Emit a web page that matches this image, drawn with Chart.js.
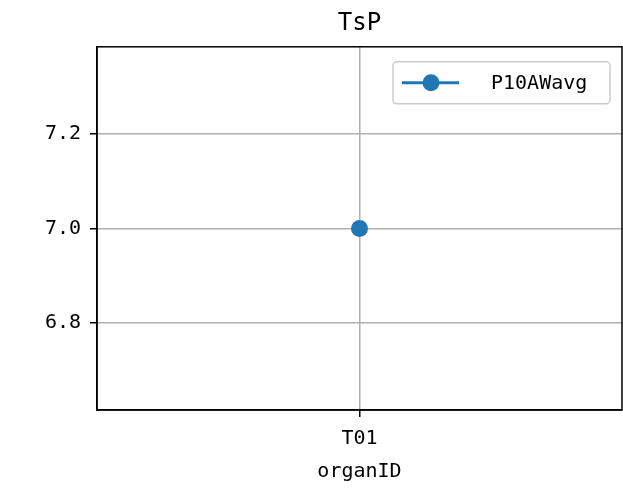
<!DOCTYPE html>
<html>
<head>
<meta charset="utf-8">
<script src="https://cdn.jsdelivr.net/npm/chart.js@4/dist/chart.umd.min.js"></script>
<style>
html,body{margin:0;padding:0;background:#fff;overflow:hidden;}
#wrap{width:623px;height:489px;}
canvas{display:block;}
</style>
</head>
<body>
<div id="wrap"><canvas id="c" width="623" height="489"></canvas></div>
<script>
const chartTitle = "TsP";
const xAxisTitle = "organID";
const categories = ["T01"];
const seriesName = "P10AWavg";
const seriesValues = [7.0];
const yTicks = [6.8, 7.0, 7.2];
const yMin = 6.615, yMax = 7.385;

const FONT = "'DejaVu Sans Mono', monospace";
const BLUE = "#1f77b4";

const frame = {
  id: "frame",
  afterDraw(chart) {
    const {ctx, chartArea: a} = chart;
    ctx.save();
    ctx.strokeStyle = "#000";
    ctx.lineWidth = 1.5;
    ctx.strokeRect(a.left, a.top, a.right - a.left, a.bottom - a.top);
    // legend (matplotlib style, upper right)
    const ds = chart.data.datasets[0];
    ctx.font = "20px " + FONT;
    const bw = 217, bh = 42;
    const bx = a.right - 12 - bw, by = a.top + 15;
    ctx.fillStyle = "rgba(255,255,255,0.8)";
    ctx.strokeStyle = "#cccccc";
    ctx.lineWidth = 1.5;
    ctx.beginPath();
    ctx.roundRect(bx, by, bw, bh, 4);
    ctx.fill();
    ctx.stroke();
    const cy = by + bh / 2;
    ctx.strokeStyle = ds.borderColor;
    ctx.lineWidth = 3;
    ctx.beginPath();
    ctx.moveTo(bx + 9, cy);
    ctx.lineTo(bx + 66, cy);
    ctx.stroke();
    ctx.fillStyle = ds.pointBackgroundColor;
    ctx.beginPath();
    ctx.arc(bx + 38, cy, ds.pointRadius, 0, Math.PI * 2);
    ctx.fill();
    ctx.fillStyle = "#000";
    ctx.textBaseline = "middle";
    ctx.textAlign = "left";
    ctx.fillText(ds.label, bx + 98, cy + 1);
    ctx.restore();
  }
};

new Chart(document.getElementById("c"), {
  type: "line",
  data: {
    labels: categories,
    datasets: [{
      label: seriesName,
      data: seriesValues,
      borderColor: BLUE,
      backgroundColor: BLUE,
      pointBackgroundColor: BLUE,
      pointBorderColor: BLUE,
      pointBorderWidth: 0,
      pointRadius: 8.5,
      borderWidth: 3
    }]
  },
  options: {
    responsive: false,
    animation: false,
    devicePixelRatio: 1,
    layout: {autoPadding: false, padding: {left: 0, right: 1, top: 0, bottom: 0}},
    plugins: {
      legend: {display: false},
      tooltip: {enabled: false},
      title: {
        display: true,
        text: chartTitle,
        fullSize: false,
        color: "#000",
        font: {family: FONT, size: 24, weight: "normal"},
        padding: {top: 9, bottom: 9}
      }
    },
    scales: {
      x: {
        type: "category",
        offset: true,
        grid: {offset: false, color: "#b0b0b0", lineWidth: 1.5, tickColor: "#000", tickLength: 7, drawTicks: true},
        border: {color: "#000", width: 1.5},
        ticks: {color: "#000", font: {family: FONT, size: 20}, padding: 10},
        title: {display: true, text: xAxisTitle, color: "#000", font: {family: FONT, size: 20}, padding: {top: 0, bottom: 5}},
        afterFit(s) { s.height = 79; }
      },
      y: {
        min: yMin,
        max: yMax,
        grid: {color: "#b0b0b0", lineWidth: 1.5, tickColor: "#000", tickLength: 7},
        border: {color: "#000", width: 1.5},
        ticks: {color: "#000", font: {family: FONT, size: 20}, padding: 9,
          callback: v => Number(v).toFixed(1)},
        afterBuildTicks(s) { s.ticks = yTicks.map(v => ({value: v})); },
        afterFit(s) { s.width = 97; }
      }
    }
  },
  plugins: [frame]
});
</script>
</body>
</html>
